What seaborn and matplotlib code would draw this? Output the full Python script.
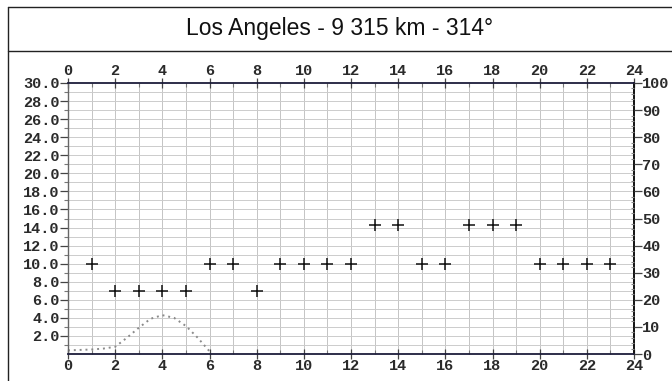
import matplotlib
matplotlib.use('Agg')
import matplotlib.pyplot as plt
import matplotlib.lines as mlines
import seaborn as sns
import pandas as pd

# hourly frequency marks (MHz)
hours = [1, 2, 3, 4, 5, 6, 7, 8, 9, 10, 11, 12,
         13, 14, 15, 16, 17, 18, 19, 20, 21, 22, 23]
freq = [10.0, 7.0, 7.0, 7.0, 7.0, 10.0, 10.0, 7.0, 10.0, 10.0, 10.0, 10.0,
        14.3, 14.3, 10.0, 10.0, 14.3, 14.3, 14.3, 10.0, 10.0, 10.0, 10.0]

# dotted curve
curve_h = [0, 0.5, 1, 1.5, 2, 2.5, 3, 3.5, 4, 4.5, 5, 5.5, 6]
curve_v = [0.4, 0.45, 0.5, 0.6, 0.8, 1.8, 2.9, 3.9, 4.3, 4.0, 3.1, 1.8, 0.3]

title = 'Los Angeles - 9 315 km - 314°'
left_ticks = [2, 4, 6, 8, 10, 12, 14, 16, 18, 20, 22, 24, 26, 28, 30]
right_ticks = [0, 10, 20, 30, 40, 50, 60, 70, 80, 90, 100]
hour_ticks = list(range(0, 25, 2))

sns.set_style("white")
plt.rcParams['font.family'] = ['DejaVu Sans']

fig = plt.figure(figsize=(6.72, 3.81), dpi=100)
ax = fig.add_axes([68 / 672, 1 - 354 / 381, (634 - 68) / 672, (354 - 83) / 381])

# grid
for h in range(1, 24):
    ax.axvline(h, color='#c4c4c4', lw=0.7, zorder=0)
for v in range(1, 30):
    ax.axhline(v, color='#cccccc', lw=0.7, zorder=0)

df = pd.DataFrame({'hour': hours, 'freq': freq})
sns.scatterplot(data=df, x='hour', y='freq', marker='+', s=70, color='#111111',
                linewidth=1.1, ax=ax, zorder=3)

cdf = pd.DataFrame({'hour': curve_h, 'val': curve_v})
sns.lineplot(data=cdf, x='hour', y='val', color='#8a8a8a', lw=1.4,
             linestyle=(0, (1, 2)), ax=ax, zorder=2)

ax.set_xlim(0, 24)
ax.set_ylim(0, 30)
ax.set_xlabel('')
ax.set_ylabel('')

tfont = dict(family='Liberation Mono', weight='bold', size=11, color='#2a2a2a')
ax.set_xticks(hour_ticks)
ax.set_xticks(range(1, 24, 2), minor=True)
ax.set_xticklabels([str(h) for h in hour_ticks], **tfont)
ax.set_yticks(left_ticks)
ax.set_yticks(range(1, 30, 2), minor=True)
ax.set_yticklabels([f'{v:.1f}' for v in left_ticks], **tfont)
ax.tick_params(axis='x', which='major', top=True, bottom=True, labeltop=True,
               direction='inout', length=7, width=0.9, color='#444444', pad=0)
ax.tick_params(axis='x', which='minor', top=True, bottom=True,
               direction='in', length=3, width=0.8, color='#777777')
ax.tick_params(axis='y', which='major', left=True, direction='out', length=6,
               width=0.9, color='#444444', pad=0)
ax.tick_params(axis='y', which='minor', left=True, direction='out', length=3,
               width=0.8, color='#777777')

for side in ['top', 'bottom']:
    ax.spines[side].set_color('#1c1c3a')
    ax.spines[side].set_linewidth(1.3)
ax.spines['left'].set_color('#666666')
ax.spines['left'].set_linewidth(1.0)
ax.spines['right'].set_color('#111111')
ax.spines['right'].set_linewidth(1.4)

ax2 = ax.twinx()
ax2.set_ylim(0, 100)
ax2.set_yticks(right_ticks)
ax2.set_yticks(range(0, 101, 2), minor=True)
ax2.set_yticklabels([str(v) for v in right_ticks], **tfont)
ax2.tick_params(axis='y', which='major', right=True, direction='out', length=6,
                width=0.9, color='#444444', pad=0)
ax2.tick_params(axis='y', which='minor', right=True, direction='in', length=2.5,
                width=0.8, color='#888888')
for s in ax2.spines.values():
    s.set_visible(False)

# title box
fig.add_artist(mlines.Line2D([8 / 672, 1], [1 - 7 / 381] * 2, color='#222222', lw=1.0))
fig.add_artist(mlines.Line2D([8 / 672, 1], [1 - 51 / 381] * 2, color='#222222', lw=1.0))
fig.add_artist(mlines.Line2D([8 / 672] * 2, [0, 1 - 7 / 381], color='#222222', lw=1.0))
fig.text(0.505, 1 - 29 / 381, title, ha='center', va='center', fontsize=16.5,
         family='Liberation Sans', color='#111111')

fig.savefig('out.png', dpi=100)
